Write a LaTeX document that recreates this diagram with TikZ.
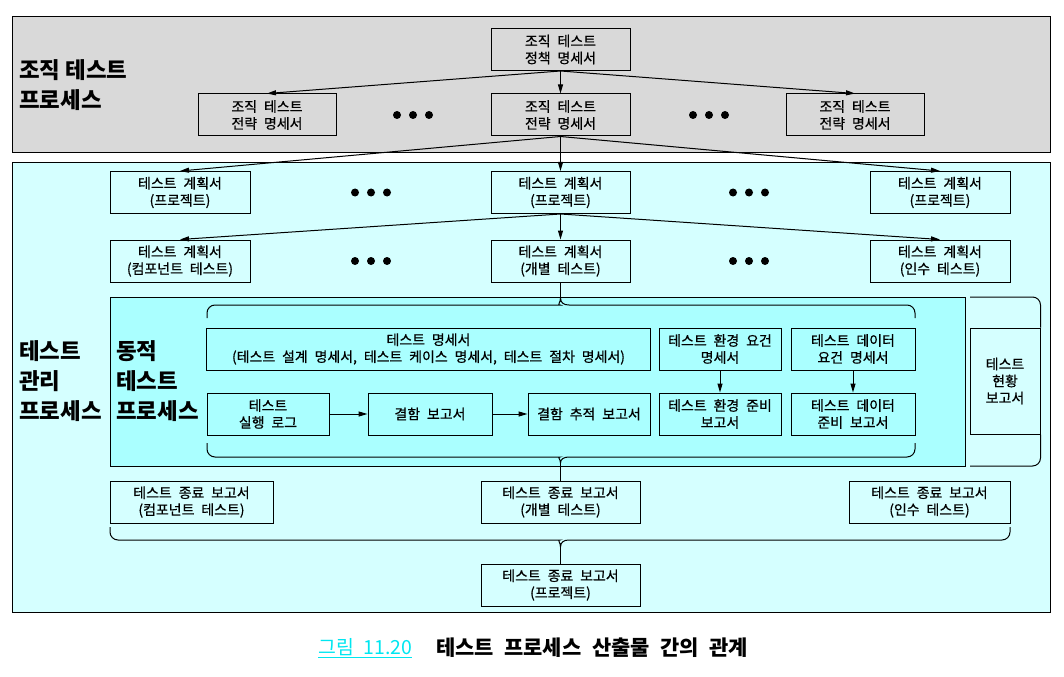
\documentclass[tikz,border=0pt]{standalone}
\usepackage{fontspec}
\setmainfont{Noto Sans CJK KR}[WordSpace=2.2]
\newfontfamily\docfont{Noto Sans CJK KR}[WordSpace=2.2, FakeBold=0.6]
\newfontfamily\titlefont{Noto Sans CJK KR}
\usetikzlibrary{arrows.meta}

\definecolor{orggray}{RGB}{217,217,217}
\definecolor{mgmtcyan}{RGB}{213,255,255}
\definecolor{dyncyan}{RGB}{170,255,255}
\definecolor{capcyan}{RGB}{0,230,240}

\tikzset{
	doc/.style={draw, line width=1bp, inner sep=0pt, align=center, minimum height=42bp,
			font=\docfont\fontsize{14}{17}\selectfont},
	arr/.style={-{Triangle[length=9bp,width=5bp]}, line width=1bp},
	bigtext/.style={align=left, anchor=west, inner sep=0pt, font=\titlefont\bfseries\fontsize{22.5}{30}\selectfont},
	brace/.style={line width=1bp, rounded corners=8bp},
}

\begin{document}
\begin{tikzpicture}[x=1bp, y=-1bp]
		\useasboundingbox (0,0) rectangle (1064,677);

		% Draw the two process panels
		\filldraw[fill=orggray, line width=1bp] (12,17) rectangle (1050,153);
		\filldraw[fill=mgmtcyan, line width=1bp] (12,163) rectangle (1050,612);
		\filldraw[fill=dyncyan, line width=1bp] (110,297) rectangle (965,466);

		% Panel titles
		\node[bigtext] (orgt) at (19,85) {조직 테스트\\프로세스};
		\node[bigtext] (mgmt) at (19,381) {테스트\\관리\\프로세스};
		\node[bigtext] (dynt) at (116,381) {동적\\테스트\\프로세스};

		% Organisational documents
		\node[doc, minimum width=139bp] (pol) at (560.5,49.5) {조직 테스트\\정책 명세서};
		\node[doc, minimum width=138bp] (str1) at (267,115) {조직 테스트\\전략 명세서};
		\node[doc, minimum width=139bp] (str2) at (560.5,115) {조직 테스트\\전략 명세서};
		\node[doc, minimum width=138bp] (str3) at (855,115) {조직 테스트\\전략 명세서};

		% Test plans
		\node[doc, minimum width=140bp] (pp1) at (180,192.5) {테스트 계획서\\(프로젝트)};
		\node[doc, minimum width=139bp] (pp2) at (560.5,192.5) {테스트 계획서\\(프로젝트)};
		\node[doc, minimum width=140bp] (pp3) at (940,192.5) {테스트 계획서\\(프로젝트)};
		\node[doc, minimum width=140bp] (pl1) at (180,261) {테스트 계획서\\(컴포넌트 테스트)};
		\node[doc, minimum width=139bp] (pl2) at (560.5,261) {테스트 계획서\\(개별 테스트)};
		\node[doc, minimum width=140bp] (pl3) at (940,261) {테스트 계획서\\(인수 테스트)};

		% Dots between the boxes
		\foreach \cx/\cy in {413/115, 709/115, 371/192.5, 749/192.5, 371/261, 749/261} {
				\foreach \d in {-16,0,16} {
						\fill (\cx+\d,\cy) circle (4bp);
					}
			}

		% Dynamic test process documents
		\node[doc, minimum width=443bp] (spec) at (428.5,349) {테스트 명세서\\(테스트 설계 명세서, 테스트 케이스 명세서, 테스트 절차 명세서)};
		\node[doc, minimum width=122bp] (envr) at (720,349) {테스트 환경 요건\\명세서};
		\node[doc, minimum width=124bp] (datr) at (853,349) {테스트 데이터\\요건 명세서};
		\node[doc, minimum width=122bp] (log) at (268,414) {테스트\\실행 로그};
		\node[doc, minimum width=124bp] (dfr) at (430,414) {결함 보고서};
		\node[doc, minimum width=122bp] (dft) at (589,414) {결함 추적 보고서};
		\node[doc, minimum width=122bp] (envp) at (720,414) {테스트 환경 준비\\보고서};
		\node[doc, minimum width=124bp] (datp) at (853,414) {테스트 데이터\\준비 보고서};
		\node[doc, minimum width=70bp, minimum height=106bp] (stat) at (1005,381) {테스트\\현황\\보고서};

		% Completion reports
		\node[doc, minimum width=163bp] (cr1) at (191.5,502) {테스트 종료 보고서\\(컴포넌트 테스트)};
		\node[doc, minimum width=159bp] (cr2) at (560.5,502) {테스트 종료 보고서\\(개별 테스트)};
		\node[doc, minimum width=161bp] (cr3) at (929.5,502) {테스트 종료 보고서\\(인수 테스트)};
		\node[doc, minimum width=159bp] (crp) at (560.5,585) {테스트 종료 보고서\\(프로젝트)};

		% Arrows
		\foreach \t in {str1,str2,str3} \draw[arr] (pol.south) -- (\t.north);
		\foreach \t in {pp1,pp2,pp3} \draw[arr] (str2.south) -- (\t.north);
		\foreach \t in {pl1,pl2,pl3} \draw[arr] (pp2.south) -- (\t.north);
		\draw[arr] (log) -- (dfr);
		\draw[arr] (dfr) -- (dft);
		\draw[arr] (envr) -- (envp);
		\draw[arr] (datr) -- (datp);

		% Braces
		\coordinate (btop) at (560.5,298);
		\coordinate (bbot) at (560.5,463);
		\coordinate (cbot) at (560.5,547);
		\draw[brace] (207,318) |- (552,305) [sharp corners] .. controls (557,305) and (560.5,303) .. (btop)
			.. controls (560.5,303) and (564,305) .. (569,305) [rounded corners=8bp] -| (915,318);
		\draw[brace] (207,443) |- (552,457) [sharp corners] .. controls (557,457) and (560.5,459) .. (bbot)
			.. controls (560.5,459) and (564,457) .. (569,457) [rounded corners=8bp] -| (915,443);
		\draw[brace] (110,527) |- (552,540) [sharp corners] .. controls (557,540) and (560.5,542) .. (cbot)
			.. controls (560.5,542) and (564,540) .. (569,540) [rounded corners=8bp] -| (1010,527);
		\draw[brace] (970,297) -| (stat.north east);
		\draw[brace] (stat.south east) |- (970,466);
		\draw[line width=1bp] (pl2.south) -- (btop);
		\draw[line width=1bp] (bbot) -- (cr2.north);
		\draw[line width=1bp] (cbot) -- (crp.north);

		% Caption
		\node[anchor=west, inner sep=0pt, text=capcyan, font=\fontsize{19.5}{19.5}\selectfont] (fig) at (318,648) {\underline{그림 11.20}};
		\node[anchor=west, inner sep=0pt, font=\bfseries\fontsize{21}{21}\selectfont] (cap) at (436,648) {테스트 프로세스 산출물 간의 관계};
	\end{tikzpicture}
\end{document}
